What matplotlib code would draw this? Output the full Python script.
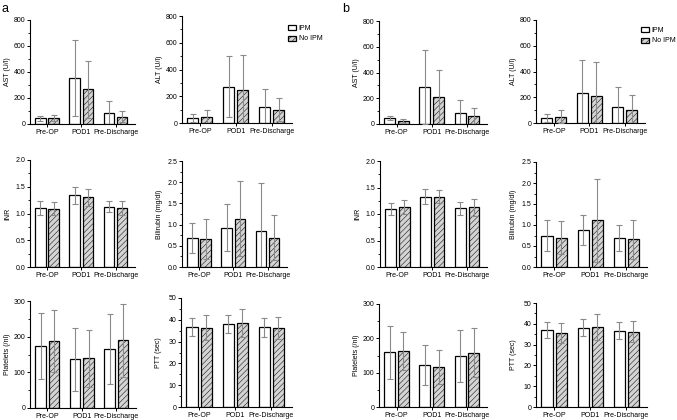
import numpy as np
import matplotlib
matplotlib.use('Agg')
import matplotlib.pyplot as plt
from matplotlib.patches import Patch
from matplotlib.ticker import MultipleLocator, AutoMinorLocator, FormatStrFormatter

plt.rcParams['font.family'] = ['Liberation Sans', 'DejaVu Sans']
plt.rcParams['hatch.linewidth'] = 0.35

# categories
groups = ['Pre-OP', 'POD1', 'Pre-Discharge']

# panel a: means and SDs (IPM / No IPM)
a_ast_ipm, a_ast_ipm_sd = [44, 351, 82], [18, 293, 92]
a_ast_no,  a_ast_no_sd  = [45, 267, 56], [24, 220, 44]
a_alt_ipm, a_alt_ipm_sd = [37, 270, 120], [33, 228, 133]
a_alt_no,  a_alt_no_sd  = [48, 250, 100], [52, 260, 87]
a_inr_ipm, a_inr_ipm_sd = [1.11, 1.34, 1.13], [0.13, 0.16, 0.11]
a_inr_no,  a_inr_no_sd  = [1.09, 1.30, 1.11], [0.12, 0.16, 0.13]
a_bil_ipm, a_bil_ipm_sd = [0.68, 0.93, 0.84], [0.35, 0.56, 1.15]
a_bil_no,  a_bil_no_sd  = [0.66, 1.14, 0.69], [0.47, 0.89, 0.53]
a_plt_ipm, a_plt_ipm_sd = [174, 136, 166], [92, 87, 98]
a_plt_no,  a_plt_no_sd  = [188, 139, 190], [88, 79, 102]
a_ptt_ipm, a_ptt_ipm_sd = [36.7, 37.9, 36.5], [4.0, 4.1, 4.3]
a_ptt_no,  a_ptt_no_sd  = [36.4, 38.5, 36.2], [5.8, 6.3, 5.1]

# panel b
b_ast_ipm, b_ast_ipm_sd = [46, 290, 82], [18, 288, 106]
b_ast_no,  b_ast_no_sd  = [23, 206, 59], [16, 213, 64]
b_alt_ipm, b_alt_ipm_sd = [39, 235, 126], [31, 258, 155]
b_alt_no,  b_alt_no_sd  = [49, 212, 103], [52, 260, 116]
b_inr_ipm, b_inr_ipm_sd = [1.09, 1.33, 1.11], [0.11, 0.15, 0.12]
b_inr_no,  b_inr_no_sd  = [1.13, 1.33, 1.13], [0.13, 0.13, 0.16]
b_bil_ipm, b_bil_ipm_sd = [0.75, 0.88, 0.70], [0.36, 0.36, 0.31]
b_bil_no,  b_bil_no_sd  = [0.70, 1.11, 0.66], [0.39, 0.99, 0.47]
b_plt_ipm, b_plt_ipm_sd = [159, 122, 149], [78, 59, 75]
b_plt_no,  b_plt_no_sd  = [163, 117, 158], [55, 50, 71]
b_ptt_ipm, b_ptt_ipm_sd = [36.9, 38.1, 36.7], [3.8, 4.2, 4.0]
b_ptt_no,  b_ptt_no_sd  = [35.7, 38.5, 36.2], [4.7, 6.4, 5.1]

W, H = 677, 420
fig = plt.figure(figsize=(W/100, H/100), dpi=100)

def px_rect(l, t, r, b):
    return [l/W, 1 - b/H, (r - l)/W, (b - t)/H]

def panel(rect, ipm, ipm_sd, no, no_sd, ylabel, ymax, ystep, fmt):
    ax = fig.add_axes(px_rect(*rect))
    x = np.arange(len(groups))
    w = 0.31
    ax.bar(x - 0.195, ipm, w, color='white', edgecolor='black', linewidth=0.9, zorder=2)
    ax.bar(x + 0.195, no, w, color='#d4d4d4', edgecolor='black', linewidth=0.9,
           hatch='//////', zorder=2)
    ekw = dict(fmt='none', ecolor='#8a8a8a', elinewidth=0.8, capsize=2, capthick=0.8, zorder=3)
    ax.errorbar(x - 0.195, ipm, yerr=ipm_sd, **ekw)
    ax.errorbar(x + 0.195, no, yerr=no_sd, **ekw)
    ax.set_xlim(-0.5, 2.57)
    ax.set_ylim(0, ymax)
    ax.yaxis.set_major_locator(MultipleLocator(ystep))
    ax.yaxis.set_minor_locator(AutoMinorLocator(2))
    ax.yaxis.set_major_formatter(FormatStrFormatter(fmt))
    ax.set_xticks(x)
    ax.set_xticklabels(groups)
    for s in ['top', 'right']:
        ax.spines[s].set_visible(False)
    for s in ['left', 'bottom']:
        ax.spines[s].set_linewidth(0.8)
    ax.tick_params(axis='both', which='major', labelsize=5, length=2.5, width=0.7, pad=1)
    ax.tick_params(axis='y', which='minor', length=1.5, width=0.6)
    ax.set_ylabel(ylabel, fontsize=5)
    ax.yaxis.set_label_coords(-19 / (rect[2] - rect[0]), 0.5)
    return ax

panel((30, 20, 135, 124), a_ast_ipm, a_ast_ipm_sd, a_ast_no, a_ast_no_sd, 'AST (U/l)', 800, 200, '%d')
panel((182, 16, 292, 123), a_alt_ipm, a_alt_ipm_sd, a_alt_no, a_alt_no_sd, 'ALT (U/l)', 800, 200, '%d')
panel((30, 160, 135, 267), a_inr_ipm, a_inr_ipm_sd, a_inr_no, a_inr_no_sd, 'INR', 2.0, 0.5, '%.1f')
panel((182, 161, 287, 267), a_bil_ipm, a_bil_ipm_sd, a_bil_no, a_bil_no_sd, 'Bilirubin (mg/dl)', 2.5, 0.5, '%.1f')
panel((30, 301, 136, 408), a_plt_ipm, a_plt_ipm_sd, a_plt_no, a_plt_no_sd, 'Platelets (/nl)', 300, 100, '%d')
panel((181, 298, 292, 407), a_ptt_ipm, a_ptt_ipm_sd, a_ptt_no, a_ptt_no_sd, 'PTT (sec)', 50, 10, '%d')

panel((379, 21, 487, 124), b_ast_ipm, b_ast_ipm_sd, b_ast_no, b_ast_no_sd, 'AST (U/l)', 800, 200, '%d')
panel((536, 20, 645, 123), b_alt_ipm, b_alt_ipm_sd, b_alt_no, b_alt_no_sd, 'ALT (U/l)', 800, 200, '%d')
panel((380, 161, 487, 267), b_inr_ipm, b_inr_ipm_sd, b_inr_no, b_inr_no_sd, 'INR', 2.0, 0.5, '%.1f')
panel((536, 162, 647, 267), b_bil_ipm, b_bil_ipm_sd, b_bil_no, b_bil_no_sd, 'Bilirubin (mg/dl)', 2.5, 0.5, '%.1f')
panel((379, 304, 487, 407), b_plt_ipm, b_plt_ipm_sd, b_plt_no, b_plt_no_sd, 'Platelets (/nl)', 300, 100, '%d')
panel((536, 303, 647, 407), b_ptt_ipm, b_ptt_ipm_sd, b_ptt_no, b_ptt_no_sd, 'PTT (sec)', 50, 10, '%d')

# legends
handles = [Patch(facecolor='white', edgecolor='black', linewidth=0.9, label='IPM'),
           Patch(facecolor='#d4d4d4', edgecolor='black', linewidth=0.9, hatch='//////', label='No IPM')]
for lx, ly in [(288, 25), (641, 27)]:
    fig.legend(handles=handles, loc='upper left', bbox_to_anchor=(lx/W, 1 - ly/H),
               frameon=False, fontsize=5, handlelength=1.1, handleheight=0.75,
               handletextpad=0.45, labelspacing=0.5, borderpad=0, borderaxespad=0)

# panel letters
fig.text(2/W, 1 - 3/H, 'a', fontsize=9, va='top', ha='left')
fig.text(342/W, 1 - 3/H, 'b', fontsize=9, va='top', ha='left')

fig.savefig('out.png', dpi=100)
